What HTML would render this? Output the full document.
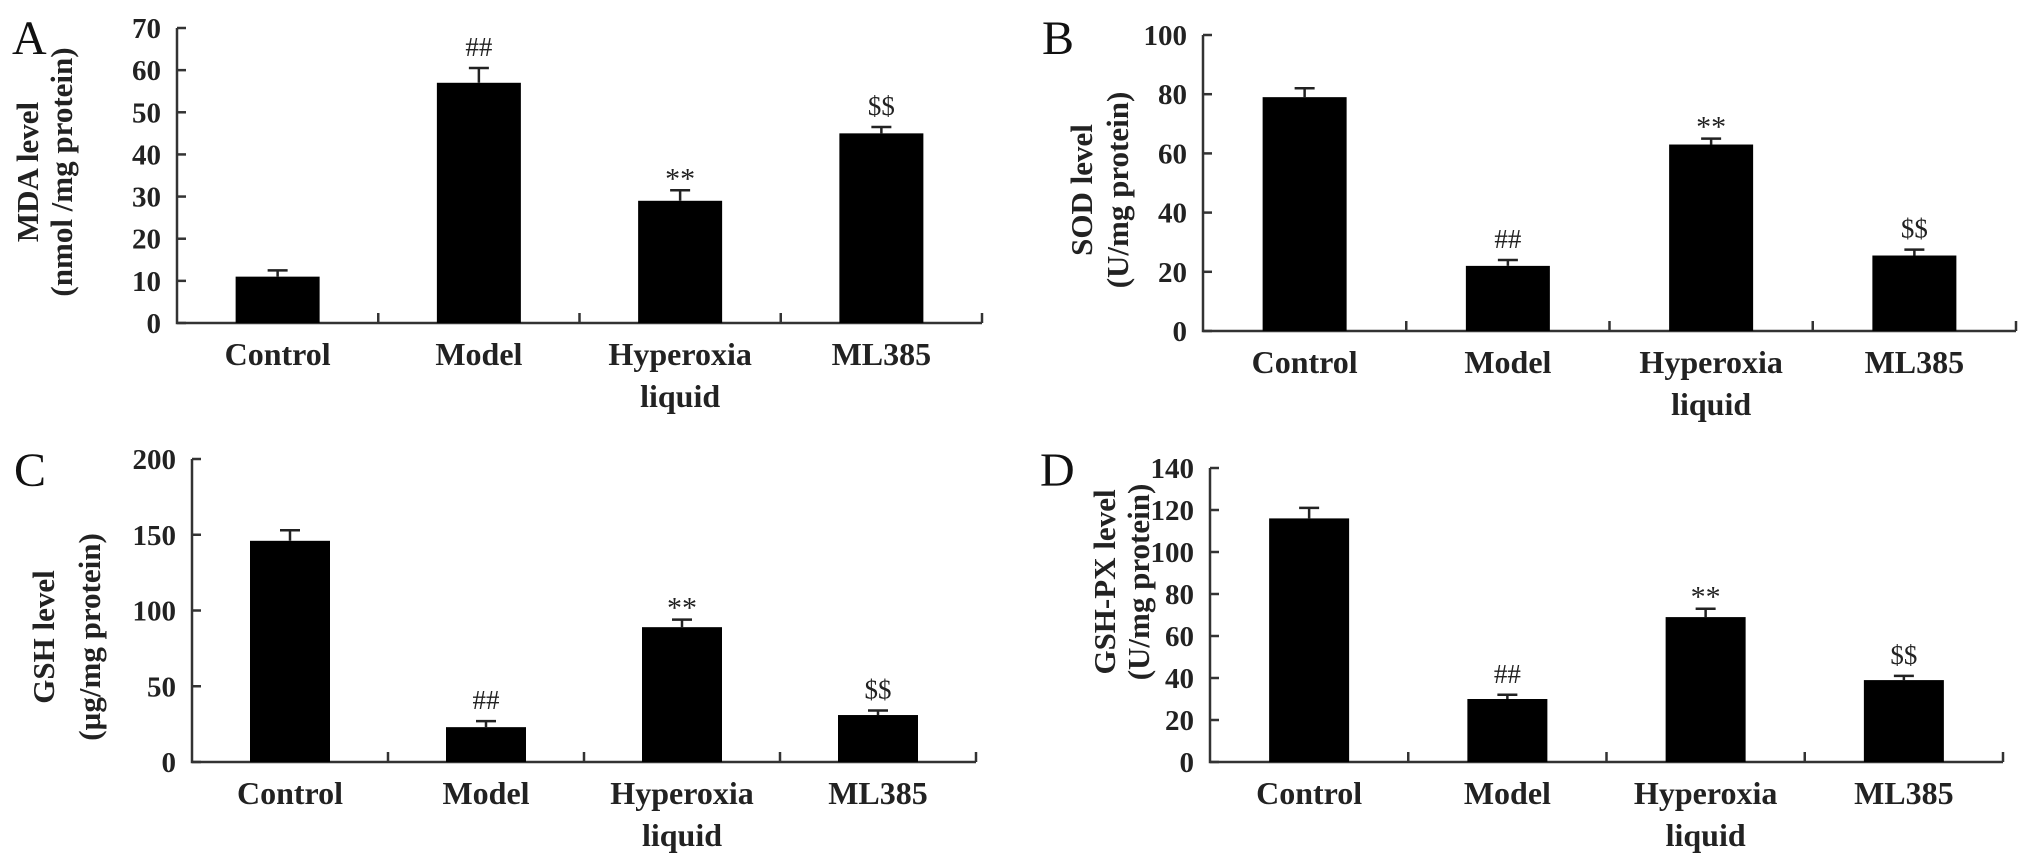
<!DOCTYPE html>
<html><head><meta charset="utf-8"><style>
html,body{margin:0;padding:0;background:#fff;}
svg{display:block;font-family:"Liberation Serif",serif;}
</style></head>
<body>
<svg id="fig" width="2031" height="859" viewBox="0 0 2031 859" xmlns="http://www.w3.org/2000/svg"></svg>
<script>
const categories = ["Control","Model","Hyperoxia|liquid","ML385"];
const mdaValues = [11, 57, 29, 45];
const mdaErrors = [12.5, 60.5, 31.5, 46.5];
const mdaTicks = [0,10,20,30,40,50,60,70];
const sodValues = [79, 22, 63, 25.5];
const sodErrors = [82, 24, 65, 27.5];
const sodTicks = [0,20,40,60,80,100];
const gshValues = [146, 23, 89, 31];
const gshErrors = [153, 27, 94, 34];
const gshTicks = [0,50,100,150,200];
const gpxValues = [116, 30, 69, 39];
const gpxErrors = [121, 32, 73, 41];
const gpxTicks = [0,20,40,60,80,100,120,140];
const marks = ["", "##", "**", "$$"];

const NS = "http://www.w3.org/2000/svg";
const svg = document.getElementById('fig');
function mk(tag, attrs, parent){
  const e = document.createElementNS(NS, tag);
  for (const k in attrs) e.setAttribute(k, attrs[k]);
  (parent||svg).appendChild(e);
  return e;
}
function panel(cfg){
  const g = mk('g', {});
  
  
  const ymax = cfg.ticks[cfg.ticks.length-1];
  const y = v => cfg.y0 - (v/ymax)*(cfg.y0 - cfg.yTop);
  const step = (cfg.xEnd - cfg.x0)/categories.length;
  const xc = i => cfg.x0 + step*(i+0.5);

  const L = mk('text', {x:cfg.letterX, y:cfg.letterY, 'font-size':48, fill:'#111'}, g);
  L.textContent = cfg.letter;
  
  

  const yt = mk('text', {transform:`translate(${cfg.labX},${cfg.labY}) rotate(-90)`, 'font-size':31, 'font-weight':'bold', 'text-anchor':'middle', fill:'#222'}, g);
  
  
  const t1 = mk('tspan', {x:0, dy:0}, yt); t1.textContent = cfg.title1;
  const t2 = mk('tspan', {x:0, dy:cfg.labGap}, yt); t2.textContent = cfg.title2;

  const ax = mk('path', {d:`M${cfg.x0},${cfg.yTop} V${cfg.y0} H${cfg.xEnd}`, stroke:'#333', 'stroke-width':2.5, fill:'none'}, g);
  
  

  cfg.ticks.forEach(t => {
    const ty = y(t);
    const tk = mk('line', {x1:cfg.x0, x2:cfg.x0+9, y1:ty, y2:ty, stroke:'#333', 'stroke-width':2.5}, g);
    
    
    const tl = mk('text', {x:cfg.x0-16, y:ty+10, 'font-size':29, 'font-weight':'bold', 'text-anchor':'end', fill:'#222'}, g);
    tl.textContent = t;
    
    
  });
  for (let i=1;i<=categories.length;i++){
    const xx = cfg.x0 + step*i;
    const tk = mk('line', {x1:xx, x2:xx, y1:cfg.y0, y2:cfg.y0-10, stroke:'#333', 'stroke-width':2.5}, g);
    
    
  }
  categories.forEach((c,i) => {
    const cx = xc(i);
    const top = y(cfg.values[i]);
    const b = mk('rect', {x:cx-cfg.bw/2, y:top, width:cfg.bw, height:cfg.y0-top, fill:'#000'}, g);
    
    
    const et = y(cfg.errors[i]);
    const e = mk('path', {d:`M${cx},${top} V${et} M${cx-10},${et} H${cx+10}`, stroke:'#222', 'stroke-width':2.5, fill:'none'}, g);
    
    
    if (marks[i]) {
      const m = mk('text', {x:cx, y: et - (marks[i]==='**' ? 2 : 12), 'font-size': marks[i]==='**'?30:27, 'text-anchor':'middle', fill:'#222'}, g);
      m.textContent = marks[i];
      
      
    }
    const parts = c.split('|');
    parts.forEach((p,k) => {
      const lt = mk('text', {x:cx, y:cfg.y0+42+k*42, 'font-size':32, 'font-weight':'bold', 'text-anchor':'middle', fill:'#222'}, g);
      lt.textContent = p;
      
      
    });
  });
}
panel({letter:'A', letterX:12, letterY:54, title1:'MDA level', title2:'(nmol /mg protein)', labX:38, labY:172, labGap:34,
  x0:177, xEnd:982, y0:323, yTop:28, bw:84, ticks:mdaTicks, values:mdaValues, errors:mdaErrors});
panel({letter:'B', letterX:1042, letterY:54, title1:'SOD level', title2:'(U/mg protein)', labX:1092, labY:190, labGap:36,
  x0:1203, xEnd:2016, y0:331, yTop:35, bw:84, ticks:sodTicks, values:sodValues, errors:sodErrors});
panel({letter:'C', letterX:14, letterY:486, title1:'GSH level', title2:'(µg/mg protein)', labX:54, labY:637, labGap:46,
  x0:192, xEnd:976, y0:762, yTop:459, bw:80, ticks:gshTicks, values:gshValues, errors:gshErrors});
panel({letter:'D', letterX:1040, letterY:486, title1:'GSH-PX level', title2:'(U/mg protein)', labX:1115, labY:582, labGap:34,
  x0:1210, xEnd:2003, y0:762, yTop:468, bw:80, ticks:gpxTicks, values:gpxValues, errors:gpxErrors});
</script>
</body></html>
